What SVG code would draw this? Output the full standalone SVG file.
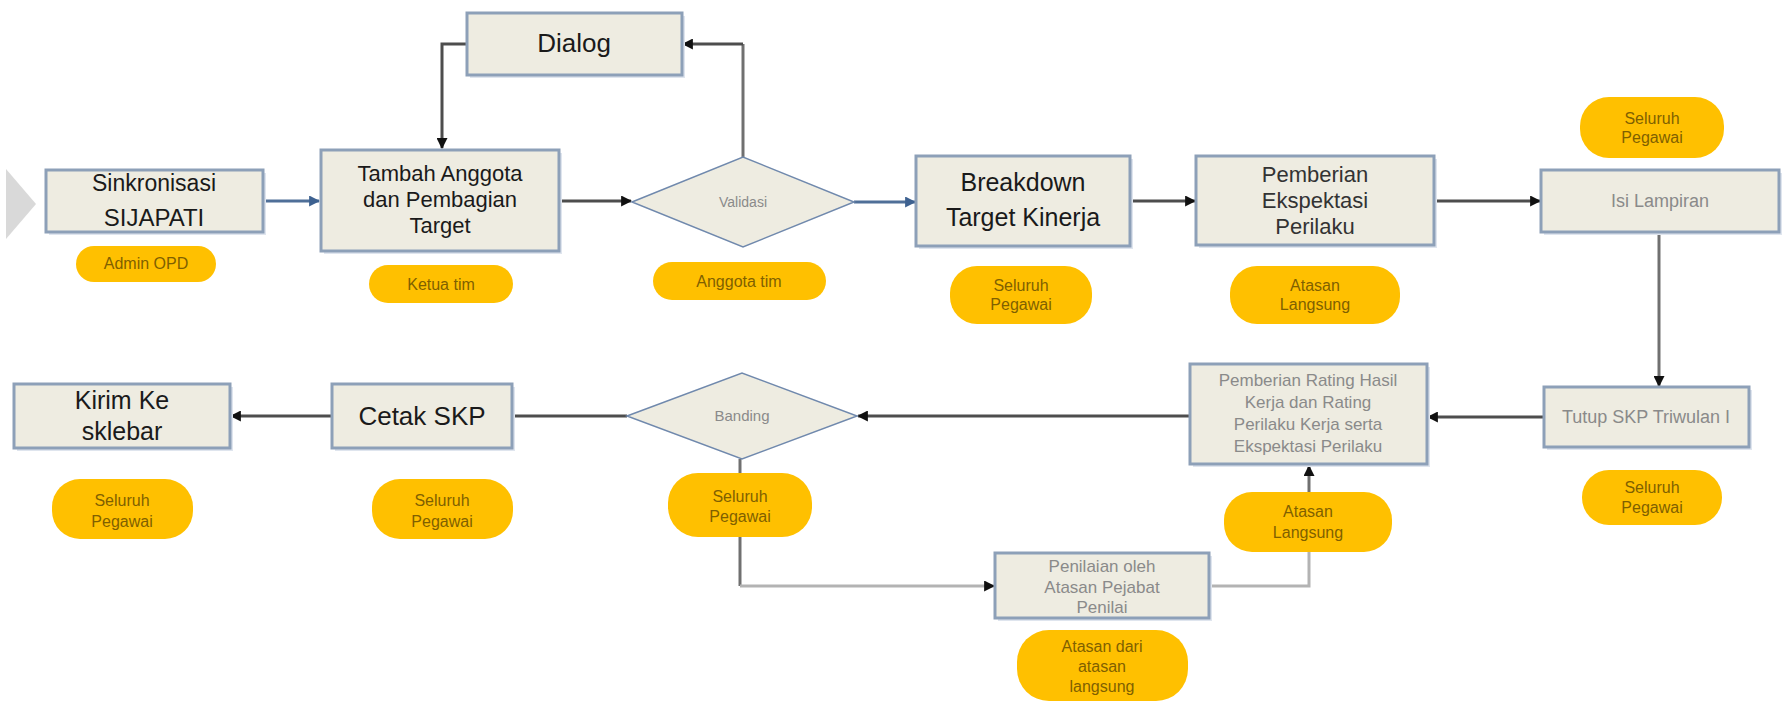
<svg xmlns="http://www.w3.org/2000/svg" width="1783" height="704" viewBox="0 0 1783 704">
<style>
.sh{fill:#dfe5ee}
.box{fill:#eeece1;stroke:#8da0b8;stroke-width:3}
.dia{fill:#eeece1;stroke:#7089ad;stroke-width:1.5}
.pill{fill:#ffc000}
.t{font-family:"Liberation Sans",Arial,sans-serif;text-anchor:middle}
.dk{fill:#1a1a1a}
.md{fill:#333}
.lt{fill:#8a8a8a}
.pt{fill:#7f6000;font-size:16px}
.c{fill:none;stroke:#4d4d4d;stroke-width:3}
.cb{fill:none;stroke:#4f6f98;stroke-width:3}
.cg{fill:none;stroke:#707070;stroke-width:3}
.cl{fill:none;stroke:#b3b3b3;stroke-width:3}
</style>
<defs>
<marker id="ak" viewBox="0 0 10 10" refX="9" refY="5" markerWidth="11" markerHeight="11" markerUnits="userSpaceOnUse" orient="auto"><path d="M0,0 L10,5 L0,10 z" fill="#111"/></marker>
<marker id="abl" viewBox="0 0 10 10" refX="9" refY="5" markerWidth="11" markerHeight="11" markerUnits="userSpaceOnUse" orient="auto"><path d="M0,0 L10,5 L0,10 z" fill="#3d6190"/></marker>
</defs>

<polygon points="6,169 36,204 6,239" fill="#d9d9d9"/>

<g id="connectors">
<path class="cb" d="M263,201 H319" marker-end="url(#abl)"/>
<path class="c" d="M559,201 H631" marker-end="url(#ak)"/>
<path class="cg" d="M743,157 V44"/>
<path class="c" d="M743,44 H683" marker-end="url(#ak)"/>
<path class="c" d="M467,44 H442 V148" marker-end="url(#ak)"/>
<path class="cb" d="M854,202 H915" marker-end="url(#abl)"/>
<path class="c" d="M1130,201 H1195" marker-end="url(#ak)"/>
<path class="c" d="M1435,201 H1540" marker-end="url(#ak)"/>
<path class="cg" d="M1659,232 V386" marker-end="url(#ak)"/>
<path class="c" d="M1544,417 H1428" marker-end="url(#ak)"/>
<path class="c" d="M1190,416 H858" marker-end="url(#ak)"/>
<path class="c" d="M627,416 H512"/>
<path class="c" d="M332,416 H231" marker-end="url(#ak)"/>
<path class="cg" d="M740,459 V586"/>
<path class="cl" d="M740,586 H994" marker-end="url(#ak)"/>
<path class="cl" d="M1209,586 H1309 V552"/>
<path class="cg" d="M1309,492 V466" marker-end="url(#ak)"/>
</g>

<g id="n-sinkronisasi">
<rect class="sh" x="49" y="173" width="217" height="62"/>
<rect class="box" x="46" y="170" width="217" height="62"/>
<text class="t dk" x="154" y="191" font-size="23">Sinkronisasi</text>
<text class="t dk" x="154" y="226" font-size="24">SIJAPATI</text>
</g>
<g id="p-admin">
<rect class="pill" x="76" y="246" width="140" height="36" rx="18"/>
<text class="t pt" x="146" y="269">Admin OPD</text>
</g>

<g id="n-tambah">
<rect class="sh" x="324" y="153" width="238" height="101"/>
<rect class="box" x="321" y="150" width="238" height="101"/>
<text class="t dk" x="440" y="181" font-size="22">Tambah Anggota</text>
<text class="t dk" x="440" y="207" font-size="22">dan Pembagian</text>
<text class="t dk" x="440" y="233" font-size="22">Target</text>
</g>
<g id="p-ketua">
<rect class="pill" x="369" y="265" width="144" height="38" rx="19"/>
<text class="t pt" x="441" y="290">Ketua tim</text>
</g>

<g id="n-dialog">
<rect class="sh" x="470" y="16" width="215" height="62"/>
<rect class="box" x="467" y="13" width="215" height="62"/>
<text class="t dk" x="574" y="52" font-size="26">Dialog</text>
</g>

<g id="n-validasi">
<polygon class="dia" points="632,202 743,157 854,202 743,247"/>
<text class="t lt" x="743" y="207" font-size="14">Validasi</text>
</g>
<g id="p-anggota">
<rect class="pill" x="653" y="262" width="173" height="38" rx="19"/>
<text class="t pt" x="739" y="287">Anggota tim</text>
</g>

<g id="n-breakdown">
<rect class="sh" x="919" y="159" width="214" height="90"/>
<rect class="box" x="916" y="156" width="214" height="90"/>
<text class="t dk" x="1023" y="191" font-size="25">Breakdown</text>
<text class="t dk" x="1023" y="226" font-size="25">Target Kinerja</text>
</g>
<g id="p-breakdown">
<rect class="pill" x="950" y="266" width="142" height="58" rx="27"/>
<text class="t pt" x="1021" y="291">Seluruh</text>
<text class="t pt" x="1021" y="310">Pegawai</text>
</g>

<g id="n-ekspektasi">
<rect class="sh" x="1199" y="159" width="238" height="89"/>
<rect class="box" x="1196" y="156" width="238" height="89"/>
<text class="t md" x="1315" y="182" font-size="22">Pemberian</text>
<text class="t md" x="1315" y="208" font-size="22">Ekspektasi</text>
<text class="t md" x="1315" y="234" font-size="22">Perilaku</text>
</g>
<g id="p-ekspektasi">
<rect class="pill" x="1230" y="266" width="170" height="58" rx="27"/>
<text class="t pt" x="1315" y="291">Atasan</text>
<text class="t pt" x="1315" y="310">Langsung</text>
</g>

<g id="p-lampiran">
<rect class="pill" x="1580" y="97" width="144" height="61" rx="29"/>
<text class="t pt" x="1652" y="124">Seluruh</text>
<text class="t pt" x="1652" y="143">Pegawai</text>
</g>
<g id="n-lampiran">
<rect class="sh" x="1544" y="173" width="238" height="62"/>
<rect class="box" x="1541" y="170" width="238" height="62"/>
<text class="t lt" x="1660" y="207" font-size="18">Isi Lampiran</text>
</g>

<g id="n-tutup">
<rect class="sh" x="1547" y="390" width="205" height="60"/>
<rect class="box" x="1544" y="387" width="205" height="60"/>
<text class="t lt" x="1646" y="423" font-size="18">Tutup SKP Triwulan I</text>
</g>
<g id="p-tutup">
<rect class="pill" x="1582" y="470" width="140" height="55" rx="27"/>
<text class="t pt" x="1652" y="493">Seluruh</text>
<text class="t pt" x="1652" y="513">Pegawai</text>
</g>

<g id="n-rating">
<rect class="sh" x="1193" y="367" width="237" height="100"/>
<rect class="box" x="1190" y="364" width="237" height="100"/>
<text class="t lt" x="1308" y="386" font-size="17">Pemberian Rating Hasil</text>
<text class="t lt" x="1308" y="408" font-size="17">Kerja dan Rating</text>
<text class="t lt" x="1308" y="430" font-size="17">Perilaku Kerja serta</text>
<text class="t lt" x="1308" y="452" font-size="17">Ekspektasi Perilaku</text>
</g>
<g id="p-rating">
<rect class="pill" x="1224" y="492" width="168" height="60" rx="28"/>
<text class="t pt" x="1308" y="517">Atasan</text>
<text class="t pt" x="1308" y="538">Langsung</text>
</g>

<g id="n-banding">
<polygon class="dia" points="627,416 742,373 857,416 742,459"/>
<text class="t lt" x="742" y="421" font-size="15">Banding</text>
</g>
<g id="p-banding">
<rect class="pill" x="668" y="473" width="144" height="64" rx="30"/>
<text class="t pt" x="740" y="502">Seluruh</text>
<text class="t pt" x="740" y="522">Pegawai</text>
</g>

<g id="n-penilaian">
<rect class="sh" x="998" y="556" width="214" height="65"/>
<rect class="box" x="995" y="553" width="214" height="65"/>
<text class="t lt" x="1102" y="572" font-size="17">Penilaian oleh</text>
<text class="t lt" x="1102" y="593" font-size="17">Atasan Pejabat</text>
<text class="t lt" x="1102" y="613" font-size="17">Penilai</text>
</g>
<g id="p-penilaian">
<rect class="pill" x="1017" y="630" width="171" height="71" rx="32"/>
<text class="t pt" x="1102" y="652">Atasan dari</text>
<text class="t pt" x="1102" y="672">atasan</text>
<text class="t pt" x="1102" y="692">langsung</text>
</g>

<g id="n-cetak">
<rect class="sh" x="335" y="387" width="180" height="64"/>
<rect class="box" x="332" y="384" width="180" height="64"/>
<text class="t dk" x="422" y="425" font-size="26">Cetak SKP</text>
</g>
<g id="p-cetak">
<rect class="pill" x="372" y="479" width="141" height="60" rx="28"/>
<text class="t pt" x="442" y="506">Seluruh</text>
<text class="t pt" x="442" y="527">Pegawai</text>
</g>

<g id="n-kirim">
<rect class="sh" x="17" y="387" width="216" height="64"/>
<rect class="box" x="14" y="384" width="216" height="64"/>
<text class="t dk" x="122" y="409" font-size="25">Kirim Ke</text>
<text class="t dk" x="122" y="440" font-size="25">sklebar</text>
</g>
<g id="p-kirim">
<rect class="pill" x="52" y="479" width="141" height="60" rx="28"/>
<text class="t pt" x="122" y="506">Seluruh</text>
<text class="t pt" x="122" y="527">Pegawai</text>
</g>
</svg>
